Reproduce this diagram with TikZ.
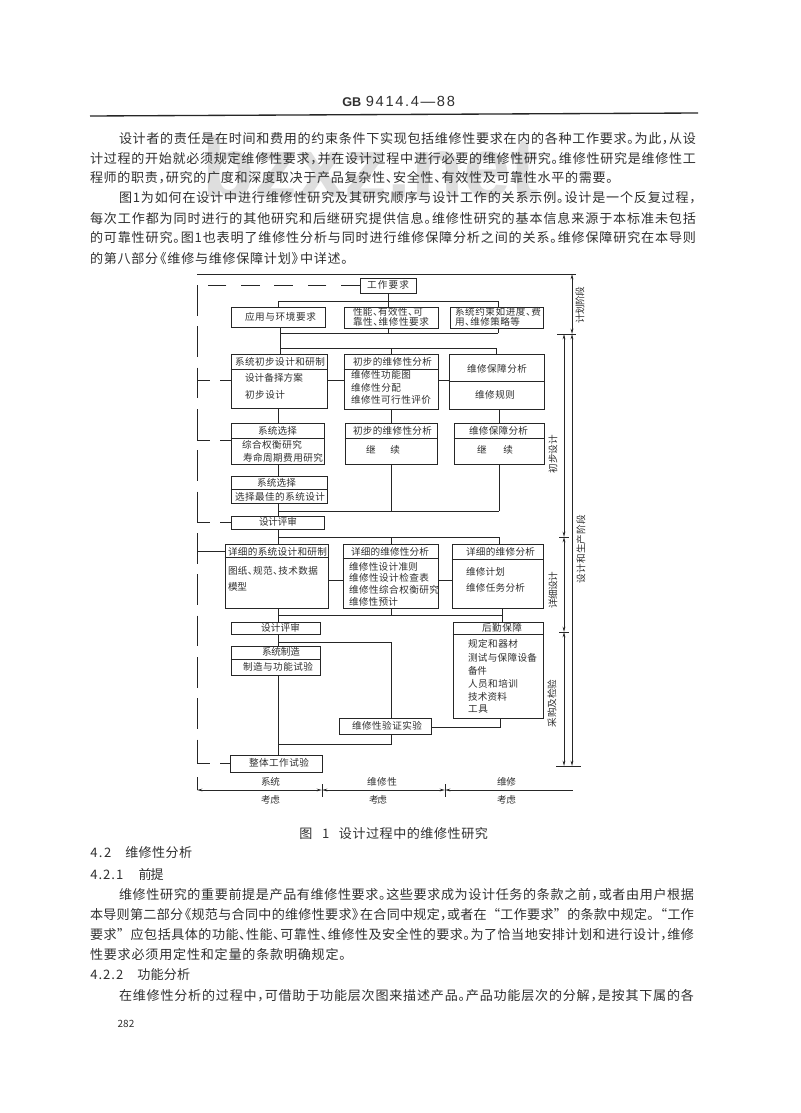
\documentclass[tikz,border=0pt]{standalone}
\usepackage{fontspec}
\usetikzlibrary{fit,arrows.meta,calc}
\setmainfont{Noto Sans CJK SC}
\newfontfamily\numfont{Liberation Sans}
\definecolor{ink}{HTML}{262626}
\definecolor{txt}{HTML}{303030}
\tikzset{
  x=0.75pt,y=-0.75pt,
  boxst/.style={draw=ink,line width=0.62pt,inner sep=0pt,fill=white},
  conn/.style={draw=ink,line width=0.6pt},
  dashV/.style={draw=ink,line width=0.6pt,dash pattern=on 23pt off 8pt},
  dashT/.style={draw=ink,line width=0.6pt,dash pattern=on 14pt off 11pt},
  dashS/.style={draw=ink,line width=0.6pt,dash pattern=on 10pt off 7.5pt},
  dim/.style={draw=ink,line width=0.6pt},
  tick/.style={draw=ink,line width=0.6pt},
  both/.style={{Stealth[length=4pt,width=2pt]}-{Stealth[length=4pt,width=2pt]}},
  lbl/.style={inner sep=0pt,text=txt,font=\fontsize{7.2}{8}\selectfont,anchor=center},
  body/.style={inner sep=0pt,text=txt,font=\fontsize{9.8}{12}\selectfont,anchor=center},
}
% half-width punctuation, as the page prints it
\newcommand{\dn}{\makebox[.5em][l]{、}}
\newcommand{\cm}{\makebox[.5em][l]{，}}
\newcommand{\pe}{\makebox[.5em][l]{。}}
\newcommand{\lbk}{\makebox[.6em][r]{《}}
\newcommand{\rbk}{\makebox[.6em][l]{》}}
% spread the tokens of a text evenly over a given width
\def\spEnd{\spEnd}
\def\sploop#1{\ifx#1\spEnd\unskip\else #1\hskip 0pt plus 1fil minus 1pt\relax\expandafter\sploop\fi}
\newcommand{\spr}[2]{\pgfmathsetmacro{\myi}{(#1)*0.75}\makebox[\myi pt][s]{\sploop#2\spEnd}}
\newcommand{\bt}[5]{%
  \pgfmathsetmacro{\myc}{(#3+#2)/2}%
  \node[lbl] (#1) at (\myc,#4) {\spr{#3-#2}{#5}};}
\newcommand{\bodyln}[5]{%
  \pgfmathsetmacro{\myc}{(#3+#2)/2}%
  \node[body] (#1) at (\myc,#4) {\spr{#3-#2}{#5}};}
\newcommand{\rt}[5]{%
  \pgfmathsetmacro{\myc}{(#4+#3)/2}%
  \node[lbl,rotate=90] (#1) at (#2,\myc) {\spr{#4-#3}{#5}};}
\newcommand{\bx}[5]{\node[boxst,fit={(#2,#3)(#4,#5)}] (#1) {};}
\begin{document}
\begin{tikzpicture}
\useasboundingbox (0,0) rectangle (800,1113);
\fill[white] (0,0) rectangle (800,1113);
% watermark
\node[inner sep=0pt,text=black!13] (wm) at (371,167) {\numfont\bfseries\fontsize{64}{70}\selectfont bzxz.net};
% header
\node[inner sep=0pt,text=txt,anchor=west] (hd) at (342,101) {\numfont\fontsize{9.5}{11}\selectfont\textbf{GB}\hskip 3.5pt\fontsize{11}{12}\selectfont\spr{89}{9414.4—88}};
\coordinate (ruleL) at (90,116); \coordinate (ruleR) at (698,113);
\draw[ink,line width=1pt] (ruleL) -- (ruleR);
% upper body
\bodyln{p1}{119}{696}{139}{设计者的责任是在时间和费用的约束条件下实现包括维修性要求在内的各种工作要求\pe 为此\cm 从设}
\bodyln{p2}{90}{696}{159}{计过程的开始就必须规定维修性要求\cm 并在设计过程中进行必要的维修性研究\pe 维修性研究是维修性工}
\bodyln{p3}{90}{613}{178}{程师的职责\cm 研究的广度和深度取决于产品复杂性\dn 安全性\dn 有效性及可靠性水平的需要\pe}
\bodyln{p4}{119}{696}{198}{图1为如何在设计中进行维修性研究及其研究顺序与设计工作的关系示例\pe 设计是一个反复过程\cm}
\bodyln{p5}{90}{696}{218}{每次工作都为同时进行的其他研究和后继研究提供信息\pe 维修性研究的基本信息来源于本标准未包括}
\bodyln{p6}{90}{696}{238}{的可靠性研究\pe 图1也表明了维修性分析与同时进行维修保障分析之间的关系\pe 维修保障研究在本导则}
\bodyln{p7}{90}{348}{259}{的第八部分\lbk 维修与维修保障计划\rbk 中详述\pe}
% connector coordinates
\coordinate (tL) at (278,301); \coordinate (tM) at (388,301); \coordinate (tR) at (498,301);
\coordinate (uL) at (280,333); \coordinate (uM) at (388,333); \coordinate (uR) at (498,333);
\coordinate (vL) at (280,348); \coordinate (vM) at (391,348); \coordinate (vR) at (496,348);
\coordinate (sL) at (278,511); \coordinate (sM) at (391,511); \coordinate (sR) at (499,511);
\coordinate (rL) at (278,537); \coordinate (rM) at (391,537); \coordinate (rR) at (499,537);
\coordinate (qL) at (278,615); \coordinate (qM) at (391,615); \coordinate (qR) at (502,615);
\coordinate (mL) at (278,642); \coordinate (mR) at (391,642);
\coordinate (nL) at (278,744); \coordinate (nR) at (391,744);
\coordinate (oR) at (500,727);
\coordinate (fbTop) at (197,285);
\coordinate (fbBot) at (197,790);
\coordinate (fb1) at (197,380); \coordinate (fb2) at (197,440); \coordinate (fb3) at (197,522);
\coordinate (fb4) at (197,551); \coordinate (fb5) at (197,763); \coordinate (fb6) at (197,777);
\coordinate (dTopL) at (197,274); \coordinate (dTopR) at (572,274);
\coordinate (dA) at (572,334); \coordinate (dB) at (572,766);
\coordinate (eA) at (564,334); \coordinate (eB) at (564,537); \coordinate (eC) at (564,632); \coordinate (eD) at (564,766);
\coordinate (bR) at (573,790); \coordinate (b1) at (322,790); \coordinate (b2) at (445,790);
% boxes
\bx{wr}{360}{278}{416}{293}
\bx{env}{231}{307}{325}{327}
\bx{perf}{344}{307}{438}{328}
\bx{cons}{450}{307}{543}{328}
\bx{a1}{231}{354}{327}{408}
\bx{a2}{344}{354}{438}{409}
\bx{a3}{449}{354}{544}{409}
\bx{b1x}{231}{423}{324}{464}
\bx{b2x}{345}{423}{437}{464}
\bx{b3x}{454}{423}{544}{464}
\bx{c1}{231}{476}{327}{503}
\bx{rev1}{231}{516}{324}{529}
\bx{d1}{225}{544}{328}{608}
\bx{d2}{343}{544}{438}{608}
\bx{d3}{452}{544}{543}{608}
\bx{rev2}{231}{622}{320}{634}
\bx{log}{453}{622}{543}{718}
\bx{mfg}{231}{646}{320}{675}
\bx{ver}{339}{718}{431}{734}
\bx{tst}{230}{755}{322}{772}
% dividers
\draw[conn] (a1.west |- 0,369) -- (a1.east |- 0,369);
\draw[conn] (a2.west |- 0,369) -- (a2.east |- 0,369);
\draw[conn] (a3.west |- 0,381) -- (a3.east |- 0,381);
\draw[conn] (b1x.west |- 0,438) -- (b1x.east |- 0,438);
\draw[conn] (b2x.west |- 0,438) -- (b2x.east |- 0,438);
\draw[conn] (b3x.west |- 0,438) -- (b3x.east |- 0,438);
\draw[conn] (c1.west |- 0,489) -- (c1.east |- 0,489);
\draw[conn] (d1.west |- 0,557) -- (d1.east |- 0,557);
\draw[conn] (d2.west |- 0,558) -- (d2.east |- 0,558);
\draw[conn] (d3.west |- 0,559) -- (d3.east |- 0,559);
\draw[conn] (log.west |- 0,634) -- (log.east |- 0,634);
\draw[conn] (mfg.west |- 0,659) -- (mfg.east |- 0,659);
% connectors
\draw[conn] (wr.south -| tM) -- (tM);
\draw[conn] (tL) -- (tR);
\draw[conn] (tL) -- (tL |- env.north);
\draw[conn] (tM) -- (tM |- perf.north);
\draw[conn] (tR) -- (tR |- cons.north);
\draw[conn] (uL) -- (uR);
\draw[conn] (uL) -- (uL |- env.south);
\draw[conn] (uM) -- (uM |- perf.south);
\draw[conn] (uR) -- (uR |- cons.south);
\draw[conn] (uL) -- (uL |- a1.north);
\draw[conn] (vL) -- (vR) -- (vR |- a3.north);
\draw[conn] (vM) -- (vM |- a2.north);
\draw[conn] (a1.east |- 0,380) -- (a2.west |- 0,380);
\draw[conn] (a2.east |- 0,380) -- (a3.west |- 0,380);
\draw[conn] (sL |- a1.south) -- (sL |- b1x.north);
\draw[conn] (sM |- a2.south) -- (sM |- b2x.north);
\draw[conn] (sR |- a3.south) -- (sR |- b3x.north);
\draw[conn] (sL |- b1x.south) -- (sL |- c1.north);
\draw[conn] (sL |- c1.south) -- (sL |- rev1.north);
\draw[conn] (sL) -- (sR);
\draw[conn] (sM |- b2x.south) -- (sM);
\draw[conn] (sR |- b3x.south) -- (sR);
\draw[conn] (rL |- rev1.south) -- (rL |- d1.north);
\draw[conn] (rL) -- (rR);
\draw[conn] (rM) -- (rM |- d2.north);
\draw[conn] (rR) -- (rR |- d3.north);
\draw[conn] (d1.east |- 0,580) -- (d2.west |- 0,580);
\draw[conn] (d2.east |- 0,580) -- (d3.west |- 0,580);
\draw[conn] (qL |- d1.south) -- (qL |- rev2.north);
\draw[conn] (qL) -- (qR);
\draw[conn] (qM |- d2.south) -- (qM);
\draw[conn] (qR |- d3.south) -- (qR |- log.north);
\draw[conn] (mL |- rev2.south) -- (mL |- mfg.north);
\draw[conn] (mL) -- (mR) -- (mR |- ver.north);
\draw[conn] (mR |- ver.south) -- (nR) -- (nL);
\draw[conn] (nL |- mfg.south) -- (nL |- tst.north);
\draw[conn] (oR |- log.south) -- (oR) -- (oR -| ver.east);
% feedback
\draw[dashT] (wr.west |- fbTop) -- (fbTop);
\draw[dashV] (fbTop) -- (fb5);
\draw[conn] (fb6) -- (fbBot);
\draw[dashS] (fb1) -- (fb1 -| a1.west);
\draw[dashS] (fb2) -- (fb2 -| b1x.west);
\draw[dashS] (fb3) -- (fb3 -| rev1.west);
\draw[conn] (fb4) -- (fb4 -| d1.west);
\draw[dashS] (fb5) -- (fb5 -| tst.west);
% dimension lines
\draw[conn] (dTopL) -- (dTopR);
\draw[dim,both] (dTopR) -- (dA);
\draw[dim,both] (dA) -- (dB);
\draw[dim,both] (eA) -- (eB);
\draw[dim,both] (eB) -- (eC);
\draw[dim,both] (eC) -- (eD);
\draw[tick] ($(eA)+(-7,0)$) -- ($(dA)+(4,0)$);
\draw[tick] ($(eB)+(-5,0)$) -- ($(eB)+(5,0)$);
\draw[tick] ($(eC)+(-5,0)$) -- ($(eC)+(5,0)$);
\draw[tick] ($(eD)+(-8,0)$) -- ($(dB)+(9,0)$);
\draw[tick] ($(dTopR)+(-4,0)$) -- ($(dTopR)+(4,0)$);
\draw[dim,both] (fbBot) -- (b1);
\draw[dim,both] (b1) -- (b2);
\draw[dim,{Stealth[length=4pt,width=2pt]}-] (b2) -- (bR);
\draw[tick] ($(b1)+(0,-6)$) -- ($(b1)+(0,7)$);
\draw[tick] ($(b2)+(0,-6)$) -- ($(b2)+(0,7)$);
% labels
\bt{t1}{367}{409}{285}{工作要求}
\bt{t2}{245}{316}{317}{应用与环境要求}
\bt{t3}{353}{423}{312}{性能\dn 有效性\dn 可}
\bt{t4}{353}{429}{322}{靠性\dn 维修性要求}
\bt{t5}{455}{541}{312}{系统约束如进度\dn 费}
\bt{t6}{455}{520}{322}{用\dn 维修策略等}
\bt{t7}{235}{325}{362}{系统初步设计和研制}
\bt{t8}{245}{303}{378}{设计备择方案}
\bt{t9}{245}{285}{395}{初步设计}
\bt{t10}{353}{432}{362}{初步的维修性分析}
\bt{t11}{351}{411}{375}{维修性功能图}
\bt{t12}{351}{401}{388}{维修性分配}
\bt{t13}{351}{431}{400}{维修性可行性评价}
\bt{t14}{467}{527}{369}{维修保障分析}
\bt{t15}{475}{515}{395}{维修规则}
\bt{t16}{258}{297}{431}{系统选择}
\bt{t17}{242}{302}{445}{综合权衡研究}
\bt{t18}{243}{323}{458}{寿命周期费用研究}
\bt{t19}{353}{432}{431}{初步的维修性分析}
\bt{t20}{366}{400}{450}{继续}
\bt{t21}{469}{528}{431}{维修保障分析}
\bt{t22}{477}{513}{450}{继续}
\bt{t23}{257}{296}{483}{系统选择}
\bt{t24}{235}{325}{497}{选择最佳的系统设计}
\bt{t25}{259}{297}{522}{设计评审}
\bt{t26}{228}{327}{552}{详细的系统设计和研制}
\bt{t27}{228}{318}{571}{图纸\dn 规范\dn 技术数据}
\bt{t28}{228}{247}{587}{模型}
\bt{t29}{351}{429}{552}{详细的维修性分析}
\bt{t30}{349}{418}{567}{维修性设计准则}
\bt{t31}{349}{429}{578}{维修性设计检查表}
\bt{t32}{349}{439}{590}{维修性综合权衡研究}
\bt{t33}{349}{398}{602}{维修性预计}
\bt{t34}{466}{535}{552}{详细的维修分析}
\bt{t35}{466}{505}{572}{维修计划}
\bt{t36}{466}{525}{588}{维修任务分析}
\bt{t37}{261}{300}{628}{设计评审}
\bt{t38}{482}{522}{628}{后勤保障}
\bt{t39}{468}{518}{644}{规定和器材}
\bt{t40}{468}{537}{658}{测试与保障设备}
\bt{t41}{468}{487}{671}{备件}
\bt{t42}{468}{518}{684}{人员和培训}
\bt{t43}{468}{507}{697}{技术资料}
\bt{t44}{468}{488}{709}{工具}
\bt{t45}{262}{300}{652}{系统制造}
\bt{t46}{243}{313}{667}{制造与功能试验}
\bt{t47}{352}{422}{726}{维修性验证实验}
\bt{t48}{249}{309}{763}{整体工作试验}
\bt{t49}{261}{280}{782}{系统}
\bt{t50}{261}{280}{800}{考虑}
\bt{t51}{367}{397}{782}{维修性}
\bt{t52}{369}{387}{800}{考虑}
\bt{t53}{497}{516}{782}{维修}
\bt{t54}{497}{516}{800}{考虑}
\rt{r1}{580}{287}{323}{计划阶段}
\rt{r2}{553}{435}{473}{初步设计}
\rt{r3}{581}{515}{583}{设计和生产阶段}
\rt{r4}{553}{572}{608}{详细设计}
\rt{r5}{552}{680}{727}{采购及检验}
% caption
\node[body,anchor=west] (cap) at (299,834) {\makebox[141.5pt][s]{图\hfil 1\hfil\spr{149}{设计过程中的维修性研究}}};
% lower body
\node[body,anchor=west] (s1) at (90,853) {\makebox[76.5pt][s]{\spr{21}{4.2}\hfil\spr{67}{维修性分析}}};
\node[body,anchor=west] (s2) at (90,874) {\makebox[55pt][s]{\spr{33}{4.2.1}\hfil\spr{25}{前提}}};
\bodyln{q1}{119}{694}{895}{维修性研究的重要前提是产品有维修性要求\pe 这些要求成为设计任务的条款之前\cm 或者由用户根据}
\bodyln{q2}{90}{694}{915}{本导则第二部分\lbk 规范与合同中的维修性要求\rbk 在合同中规定\cm 或者在“工作要求”的条款中规定\pe “工作}
\bodyln{q3}{90}{694}{935}{要求”应包括具体的功能\dn 性能\dn 可靠性\dn 维修性及安全性的要求\pe 为了恰当地安排计划和进行设计\cm 维修}
\bodyln{q4}{90}{346}{955}{性要求必须用定性和定量的条款明确规定\pe}
\node[body,anchor=west] (s3) at (90,975) {\makebox[75pt][s]{\spr{33}{4.2.2}\hfil\spr{53}{功能分析}}};
\bodyln{q5}{119}{694}{996}{在维修性分析的过程中\cm 可借助于功能层次图来描述产品\pe 产品功能层次的分解\cm 是按其下属的各}
\node[inner sep=0pt,text=txt,font=\fontsize{7.5}{9}\selectfont] (pg) at (126,1024) {282};
\end{tikzpicture}
\end{document}
